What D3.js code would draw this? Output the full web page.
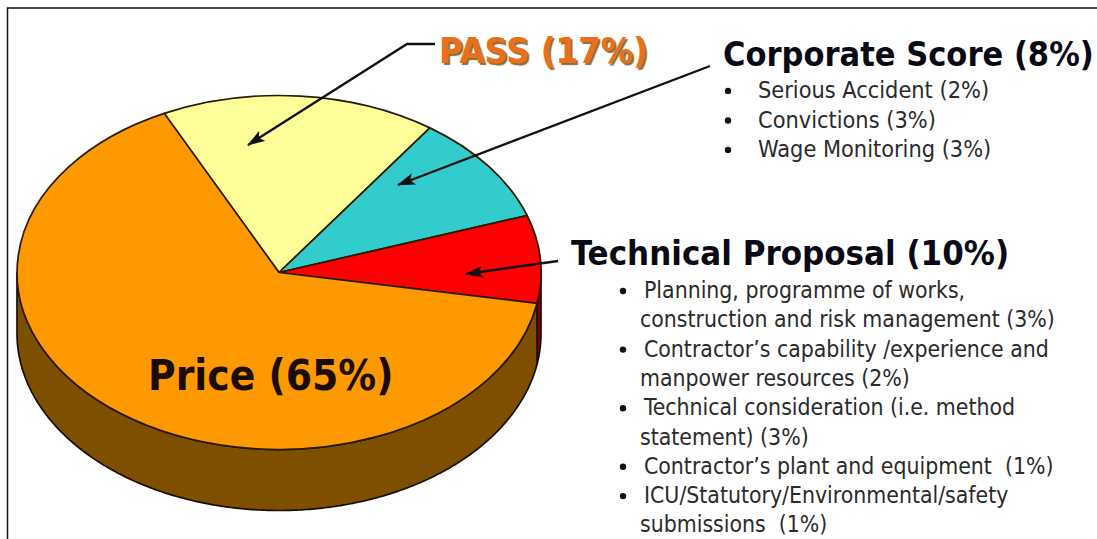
<!DOCTYPE html>
<html>
<head>
<meta charset="utf-8">
<script src="https://cdn.jsdelivr.net/npm/d3@7"></script>
<style>
  html, body { margin: 0; padding: 0; background: #fff; overflow: hidden; }
  text { font-family: "DejaVu Sans Condensed", "DejaVu Sans", sans-serif; }
</style>
</head>
<body>
<div id="chart"></div>
<script>
// Slice values, clockwise from the PASS slice
const categories = ["PASS", "Corporate Score", "Technical Proposal", "Price"];
const shares = [17, 10, 8, 65];
const topColors = ["#ffff99", "#33cccc", "#ff0000", "#ff9900"];
const sideColors = ["#7f7f4c", "#196666", "#7f0000", "#7f4f00"];

const corporateItems = ["Serious Accident (2%)", "Convictions (3%)", "Wage Monitoring (3%)"];
const technicalLines = [
    "Planning, programme of works,",
    "construction and risk management (3%)",
    "Contractor\u2019s capability /experience and",
    "manpower resources (2%)",
    "Technical consideration (i.e. method",
    "statement) (3%)",
    "Contractor\u2019s plant and equipment\u00a0 (1%)",
    "ICU/Statutory/Environmental/safety",
    "submissions\u00a0 (1%)"
];
// lines of technicalLines which start with a bullet
const technicalBullets = [0, 2, 4, 6, 7];

const width = 1097;
const height = 539;

const svg = d3.select("#chart")
    .append("svg")
    .attr("width", width)
    .attr("height", height)
    .style("display", "block");

svg.append("defs").append("marker")
    .attr("id", "head")
    .attr("viewBox", "0 0 18 12")
    .attr("refX", 17)
    .attr("refY", 6)
    .attr("markerWidth", 18)
    .attr("markerHeight", 12)
    .attr("markerUnits", "userSpaceOnUse")
    .attr("orient", "auto")
    .append("path")
    .attr("d", "M0,0 L18,6 L0,12 L4,6 Z")
    .attr("fill", "#111");

// Frame, only top and left are visible in the picture
svg.append("path")
    .attr("d", `M${width},8 H7.5 V${height}`)
    .attr("fill", "none")
    .attr("stroke", "#111")
    .attr("stroke-width", 1.5);

// Tilted pie: unit circle mapped on to the ellipse of the top face
const cx = 279, cy = 272.5, rx = 262, ry = 177, depth = 61;
const x = d3.scaleLinear().domain([-1, 1]).range([cx - rx, cx + rx]);
const y = d3.scaleLinear().domain([-1, 1]).range([cy - ry, cy + ry]);

const startAngle = -26 * Math.PI / 180;
const slices = d3.pie().sort(null).startAngle(startAngle).endAngle(startAngle + 2 * Math.PI)(shares);

// Side wall, only the part of each slice on the front half of the ellipse
const rimX = a => x(Math.sin(a));
const rimY = a => y(-Math.cos(a));
const lo = Math.PI / 2, hi = 3 * Math.PI / 2;

function wallPath(d) {
    const a0 = Math.max(d.startAngle, lo);
    const a1 = Math.min(d.endAngle, hi);
    if (a1 <= a0) return null;
    const steps = d3.range(a0, a1, 0.01).concat([a1]);
    const upper = steps.map(a => [rimX(a), rimY(a)]);
    const lower = steps.slice().reverse().map(a => [rimX(a), rimY(a) + depth]);
    return d3.line()(upper.concat(lower)) + "Z";
}

svg.append("g")
    .selectAll("path")
    .data(slices)
    .join("path")
    .attr("d", wallPath)
    .attr("fill", (d, i) => sideColors[i])
    .attr("stroke", "#1a0d00")
    .attr("stroke-width", 1.7)
    .attr("stroke-linejoin", "round");

const arc = d3.arc().innerRadius(0).outerRadius(1);
svg.append("g")
    .attr("transform", `translate(${cx},${cy}) scale(${rx},${ry})`)
    .selectAll("path")
    .data(slices)
    .join("path")
    .attr("class", (d, i) => categories[i])
    .attr("d", arc)
    .attr("fill", (d, i) => topColors[i])
    .attr("stroke", "#2a1a00")
    .attr("stroke-width", 1.7)
    .attr("stroke-linejoin", "round")
    .attr("vector-effect", "non-scaling-stroke");

// Leader arrows
const leaders = [
    "M435,44 H407 L248,145",
    "M710,66 L398,185",
    "M558,261 L466,274"
];
svg.append("g")
    .selectAll("path")
    .data(leaders)
    .join("path")
    .attr("d", d => d)
    .attr("fill", "none")
    .attr("stroke", "#111")
    .attr("stroke-width", 2.4)
    .attr("marker-end", "url(#head)");

// Labels
svg.append("text")
    .attr("x", 439).attr("y", 63)
    .attr("font-size", 36).attr("font-weight", "bold")
    .attr("fill", "#e8701a")
    .style("text-shadow", "2px 2px 1px #8a6a3a")
    .text(`${categories[0]} (${shares[0]}%)`);

svg.append("text")
    .attr("x", 723).attr("y", 66)
    .attr("font-size", 34).attr("font-weight", "bold")
    .attr("fill", "#0a0a14")
    .text("Corporate Score (8%)");

svg.append("text")
    .attr("x", 571).attr("y", 265)
    .attr("font-size", 34.5).attr("font-weight", "bold")
    .attr("fill", "#0a0a14")
    .text("Technical Proposal (10%)");

svg.append("text")
    .attr("x", 148).attr("y", 390)
    .attr("font-size", 42).attr("font-weight", "bold")
    .attr("fill", "#1a0d00")
    .text("Price (65%)");

// Corporate list
const corp = svg.append("g").attr("font-size", 23.3).attr("fill", "#2a2a2a");
corp.selectAll("text")
    .data(corporateItems)
    .join("text")
    .attr("x", 758)
    .attr("y", (d, i) => 98 + i * 29.5)
    .text(d => d);
corp.selectAll("circle")
    .data(corporateItems)
    .join("circle")
    .attr("cx", 728)
    .attr("cy", (d, i) => 91 + i * 29.5)
    .attr("r", 3.2)
    .attr("fill", "#111");

// Technical list
const tech = svg.append("g").attr("font-size", 22.8).attr("fill", "#2a2a2a");
tech.selectAll("text")
    .data(technicalLines)
    .join("text")
    .attr("x", (d, i) => technicalBullets.includes(i) ? 644 : 640)
    .attr("y", (d, i) => 298 + i * 29.3)
    .text(d => d);
tech.selectAll("circle")
    .data(technicalBullets)
    .join("circle")
    .attr("cx", 623)
    .attr("cy", d => 291 + d * 29.3)
    .attr("r", 3.2)
    .attr("fill", "#111");
</script>
</body>
</html>
